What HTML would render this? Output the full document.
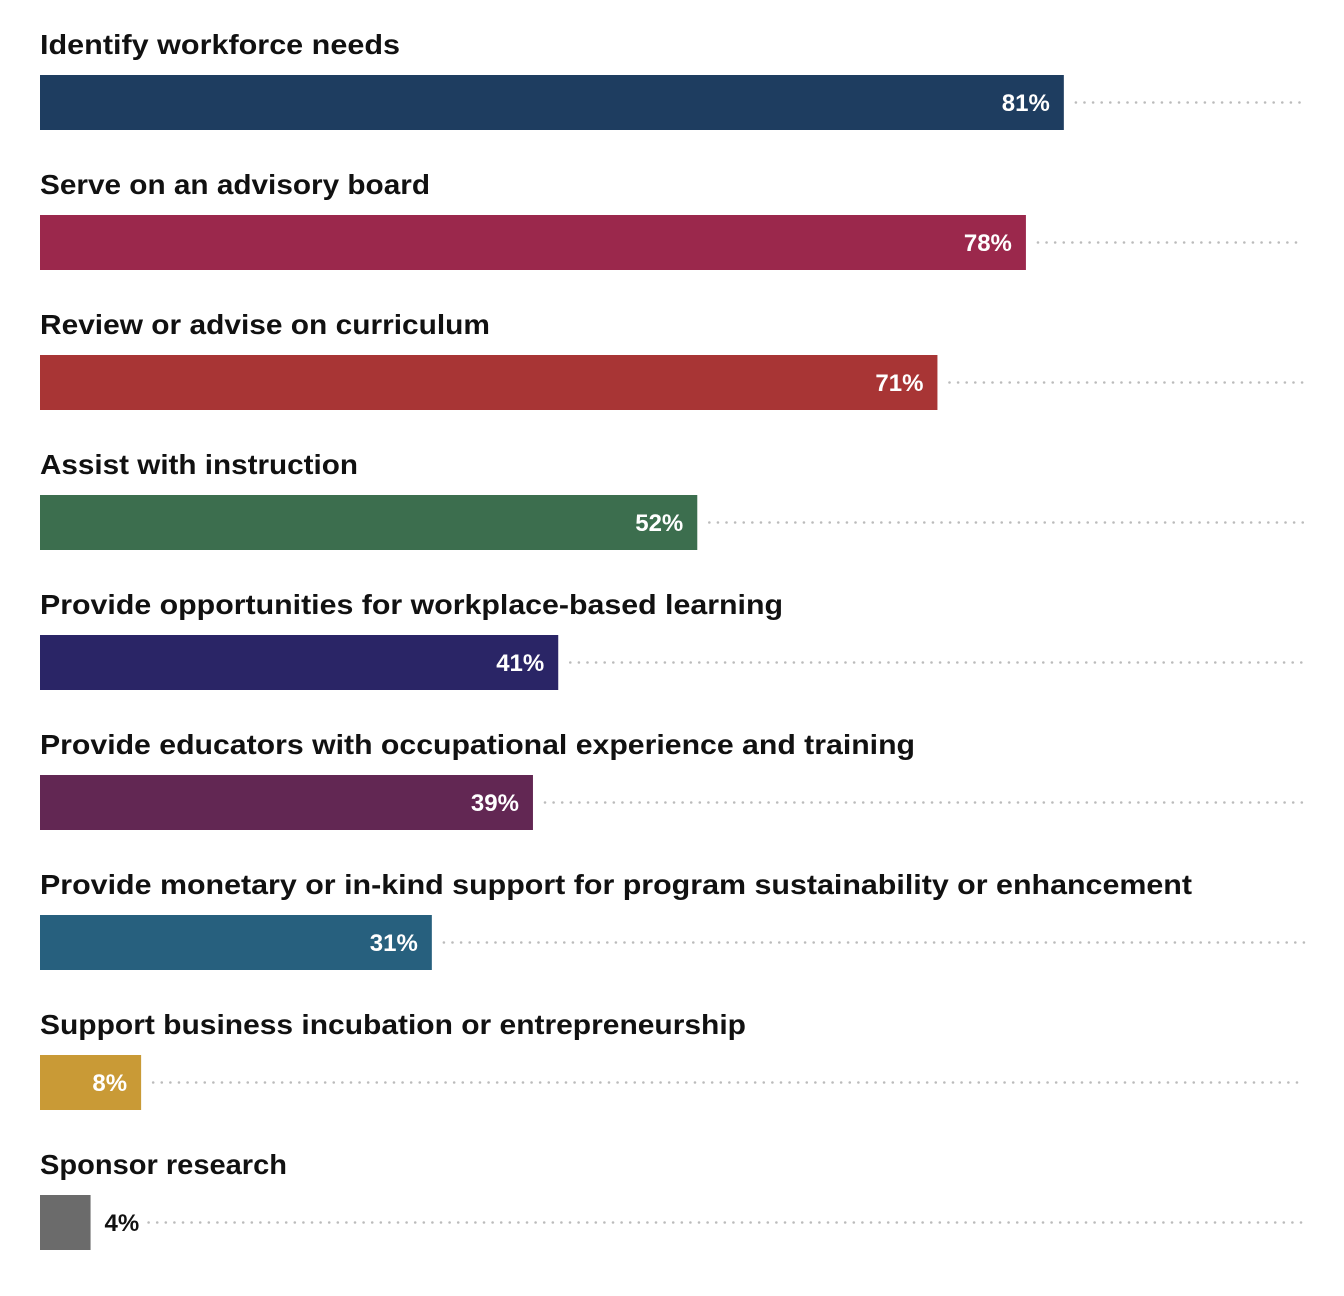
<!DOCTYPE html>
<html><head><meta charset="utf-8"><style>
html,body{margin:0;padding:0;background:#fff;}
svg{display:block;font-family:"Liberation Sans",sans-serif;}
</style></head><body>
<svg id="chart" width="1344" height="1296" viewBox="0 0 1344 1296"></svg>
<script>
const categories=["Identify workforce needs","Serve on an advisory board","Review or advise on curriculum","Assist with instruction","Provide opportunities for workplace-based learning","Provide educators with occupational experience and training","Provide monetary or in-kind support for program sustainability or enhancement","Support business incubation or entrepreneurship","Sponsor research"];
const values=[81,78,71,52,41,39,31,8,4];
const colors=["#1e3d60","#9b284c","#a83535","#3c6e4e","#2a2566","#622753","#27607e","#c99a36","#6b6b6b"];
const labelWidths=[360,390,450,318,743,875,1152,706,247];
const svg=document.getElementById('chart');
const NS='http://www.w3.org/2000/svg';
const x0=40,x1=1304;
const xs=v=>x0+(x1-x0)*v/100;
const rowY=i=>75+i*140;
function mk(t,a){const e=document.createElementNS(NS,t);for(const k in a)e.setAttribute(k,a[k]);svg.appendChild(e);return e;}
categories.forEach((c,i)=>{
  const y=rowY(i),end=xs(values[i]);
  const lab=mk('text',{x:x0,y:y-21,'font-size':28,'font-weight':'bold',fill:'#111',textLength:labelWidths[i],lengthAdjust:'spacingAndGlyphs'});
  
  
  lab.textContent=c;
  const bar=mk('rect',{x:x0,y:y,width:end-x0,height:55,fill:colors[i]});
  
  
  const inside=values[i]>=6;
  const vx=inside?end-14:end+14;
  const line=mk('line',{x1:inside?end+12:vx+44,y1:y+27.5,x2:x1,y2:y+27.5,stroke:'#bbb','stroke-width':2.5,'stroke-dasharray':'0.1 8.5','stroke-linecap':'round'});
  
  
  const val=mk('text',{x:vx,y:y+36,'font-size':24,'font-weight':'bold',fill:inside?'#fff':'#111','text-anchor':inside?'end':'start'});
  
  
  val.textContent=values[i]+'%';
});
</script>
</body></html>
